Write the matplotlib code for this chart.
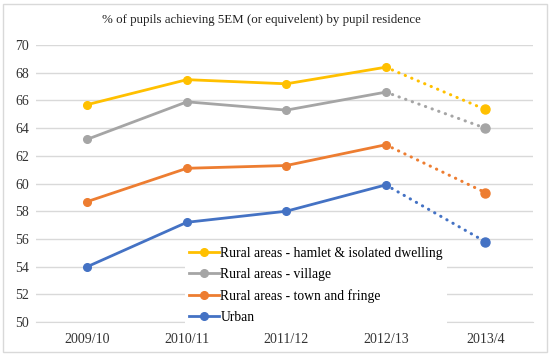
import matplotlib
import numpy as np
from matplotlib import pyplot as plt, patches

matplotlib.use('Agg')

years = ['2009/10', '2010/11', '2011/12', '2012/13', '2013/4']
hamlet = [65.7, 67.5, 67.2, 68.4, 65.35]
village = [63.2, 65.9, 65.3, 66.6, 64.0]
town = [58.7, 61.1, 61.3, 62.8, 59.35]
urban = [54.0, 57.2, 58.0, 59.9, 55.8]

series = [
    ('Rural areas - hamlet & isolated dwelling', hamlet, '#FFC000'),
    ('Rural areas - village', village, '#A5A5A5'),
    ('Rural areas - town and fringe', town, '#ED7D31'),
    ('Urban', urban, '#4472C4'),
]

plt.rcParams['font.family'] = ['Liberation Serif', 'DejaVu Serif']

fig = plt.figure(figsize=(5.5, 3.56), dpi=100)
ax = fig.add_axes([0.065, 0.0955, 0.904, 0.778])

x = np.arange(len(years))
for label, values, color in series:
    # solid up to 2012/13, dotted for the last step
    ax.plot(x[:4], values[:4], color=color, lw=2, marker='o', ms=5.5, label=label)
    ax.plot(x[3:], values[3:], color=color, lw=2.2, ls=(0, (0.1, 2.2)), dash_capstyle='round')
    ax.plot(x[4], values[4], color=color, marker='o', ms=6.5)

ax.set_xlim(-0.52, 4.48)
ax.set_ylim(50, 70)
ax.set_yticks(range(50, 71, 2))
ax.set_xticks(x)
ax.set_xticklabels(years)
ax.grid(axis='y', color='#D9D9D9', lw=1)
ax.set_axisbelow(True)
for side in ['top', 'right', 'left']:
    ax.spines[side].set_visible(False)
ax.spines['bottom'].set_color('#D9D9D9')
ax.tick_params(length=0, labelsize=10, colors='#333333')
ax.tick_params(axis='x', pad=8)
ax.tick_params(axis='y', pad=5)

fig.suptitle('% of pupils achieving 5EM (or equivelent) by pupil residence',
             x=0.476, y=0.96, fontsize=9.3, color='#222222')

ax.legend(loc='lower left', bbox_to_anchor=(0.30, -0.022), frameon=True, framealpha=1,
          edgecolor='none', fontsize=9.8, handlelength=2.2, handletextpad=0.1,
          labelspacing=0.6, borderpad=0.3, borderaxespad=0)

fig.add_artist(patches.Rectangle((0.006, 0.01), 0.988, 0.98, transform=fig.transFigure,
                                 fill=False, edgecolor='#D9D9D9', lw=1))

fig.savefig('out.png', dpi=100)
